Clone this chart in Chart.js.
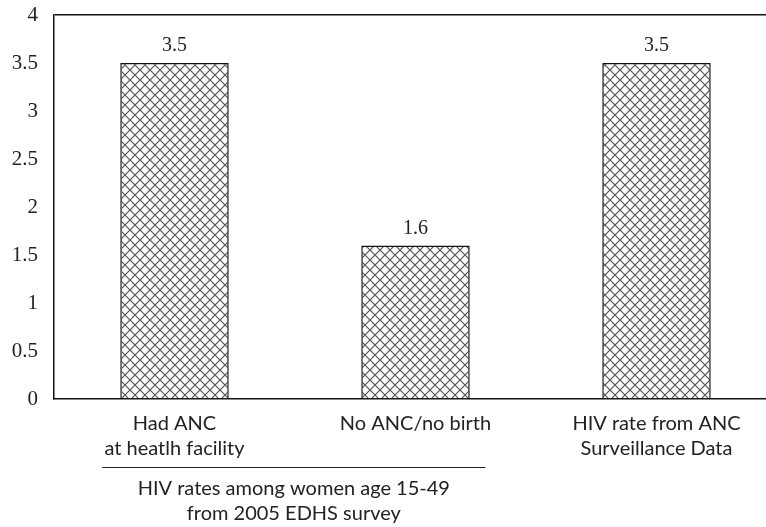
<!DOCTYPE html>
<html>
<head>
<meta charset="utf-8">
<script src="https://cdn.jsdelivr.net/npm/chart.js@4/dist/chart.umd.min.js"></script>
<style>
  html, body { margin: 0; padding: 0; background: #fff; overflow: hidden; }
  #wrap { width: 777px; height: 527px; }
</style>
</head>
<body>
<div id="wrap"><canvas id="grafico"></canvas></div>
<script>
let categorias = [
    ["Had ANC", "at heatlh facility"],
    "No ANC/no birth",
    ["HIV rate from ANC", "Surveillance Data"]
];
let valores = [3.5, 1.6, 3.5];
let etiquetasValor = ["3.5", "1.6", "3.5"];
let grupoTexto = ["HIV rates among women age 15-49", "from 2005 EDHS survey"];
let grupoIndices = [0, 1];

// cross-hatch pattern
function patron() {
    let c = document.createElement("canvas");
    c.width = 10;
    c.height = 10;
    let g = c.getContext("2d");
    g.fillStyle = "#fff";
    g.fillRect(0, 0, 10, 10);
    g.strokeStyle = "#555";
    g.lineWidth = 1.2;
    g.beginPath();
    g.moveTo(0, 0); g.lineTo(10, 10);
    g.moveTo(10, 0); g.lineTo(0, 10);
    g.stroke();
    return g.createPattern(c, "repeat");
}

let serif = "'Liberation Serif', 'Times New Roman', serif";
let sans = "Lato, 'Open Sans', sans-serif";

let extras = {
    id: "extras",
    afterDatasetsDraw(chart) {
        let ctx = chart.ctx;
        let meta = chart.getDatasetMeta(0);
        ctx.save();
        ctx.fillStyle = "#222";
        ctx.font = "20px " + serif;
        ctx.textAlign = "center";
        ctx.textBaseline = "middle";
        meta.data.forEach((bar, i) => {
            ctx.fillText(etiquetasValor[i], bar.x, bar.y - 17);
        });

        // bracket under the first two categories
        let x = chart.scales.x;
        let ancho = x.getPixelForValue(1) - x.getPixelForValue(0);
        let x1 = x.getPixelForValue(grupoIndices[0]) - 0.3 * ancho;
        let x2 = x.getPixelForValue(grupoIndices[1]) + 0.29 * ancho;
        let y = chart.chartArea.bottom + 68;
        ctx.strokeStyle = "#222";
        ctx.lineWidth = 1;
        ctx.beginPath();
        ctx.moveTo(x1, y + 0.5);
        ctx.lineTo(x2, y + 0.5);
        ctx.stroke();
        ctx.font = "20px " + sans;
        let cx = (x1 + x2) / 2;
        ctx.fillText(grupoTexto[0], cx, y + 22);
        ctx.fillText(grupoTexto[1], cx, y + 47);
        ctx.restore();
    }
};

new Chart(document.getElementById("grafico"), {
    type: "bar",
    data: {
        labels: categorias,
        datasets: [{
            data: valores,
            backgroundColor: patron(),
            borderColor: "#111",
            borderWidth: 1.5,
            categoryPercentage: 1,
            barPercentage: 0.45
        }]
    },
    options: {
        responsive: true,
        maintainAspectRatio: false,
        animation: false,
        layout: { padding: { top: 15, left: 0, right: 0, bottom: 54 } },
        plugins: {
            legend: { display: false },
            tooltip: { enabled: false }
        },
        scales: {
            y: {
                min: 0,
                max: 4,
                afterFit: (s) => { s.width = 54; s.paddingTop = 0; s.paddingBottom = 0; },
                ticks: {
                    stepSize: 0.5,
                    padding: 16,
                    color: "#222",
                    font: { family: serif, size: 21 },
                    callback: (v) => String(v)
                },
                grid: {
                    drawTicks: false,
                    color: (c) => c.tick && c.tick.value === 4 ? "#111" : "rgba(0,0,0,0)",
                    lineWidth: 1.5
                },
                border: { color: "#111", width: 1.5 }
            },
            x: {
                afterFit: (s) => { s.paddingLeft = 0; s.paddingRight = 0; },
                ticks: {
                    padding: 12,
                    color: "#222",
                    maxRotation: 0,
                    font: { family: sans, size: 20, lineHeight: 1.25 }
                },
                grid: { display: false, drawTicks: false },
                border: { color: "#111", width: 1.5 }
            }
        }
    },
    plugins: [extras]
});
</script>
</body>
</html>
